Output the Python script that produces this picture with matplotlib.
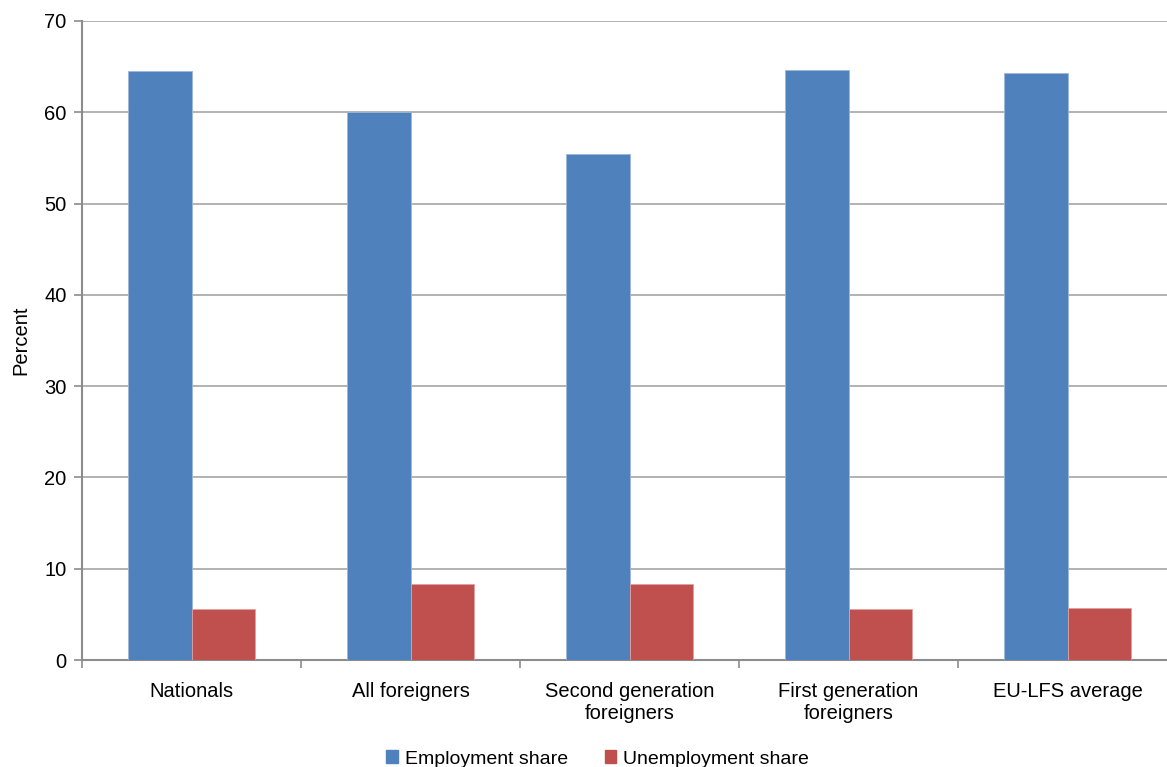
import matplotlib.pyplot as plt
from matplotlib.patches import Patch
import numpy as np

# Dados
CATEGORIES = ["Nationals", "All foreigners", "Second generation\nforeigners",
              "First generation\nforeigners", "EU-LFS average"]
EMPLOYMENT = [64.5, 60.0, 55.4, 64.6, 64.3]
UNEMPLOYMENT = [5.6, 8.3, 8.3, 5.6, 5.7]

BLUE = "#4F81BD"
RED = "#C0504D"
GRID = "#A6A6A6"
AXIS = "#8C8C8C"
FS = 14.5

plt.rcParams["font.family"] = ["Liberation Sans", "DejaVu Sans"]

fig = plt.figure(figsize=(11.67, 7.67), dpi=100)
ax = fig.add_axes([82 / 1167, 1 - 660 / 767, 1095 / 1167, 639 / 767])

x = np.arange(len(CATEGORIES))
w = 0.288
ax.bar(x - w / 2, EMPLOYMENT, width=w, color=BLUE, edgecolor="#9DB7DA", linewidth=0.6, zorder=3)
ax.bar(x + w / 2, UNEMPLOYMENT, width=w, color=RED, edgecolor="#E0A09E", linewidth=0.6, zorder=3)

ax.set_xlim(-0.5, len(CATEGORIES) - 0.5)
ax.set_ylim(0, 70)
ax.set_yticks(range(0, 71, 10))
ax.yaxis.grid(True, color=GRID, linewidth=1.2, zorder=0)
ax.set_axisbelow(True)

ax.set_xticks(x)
ax.set_xticklabels(CATEGORIES, fontsize=FS, linespacing=1.2)
ax.set_xticks(np.arange(-0.5, len(CATEGORIES), 1.0), minor=True)
ax.tick_params(axis="x", which="major", length=0, pad=16)
ax.tick_params(axis="x", which="minor", length=6, color=AXIS, width=1.2)
ax.tick_params(axis="y", length=6, color=AXIS, width=1.2, labelsize=FS, pad=5)

for side in ("top", "right"):
    ax.spines[side].set_visible(False)
for side in ("left", "bottom"):
    ax.spines[side].set_color(AXIS)
    ax.spines[side].set_linewidth(1.5)

ax.set_ylabel("Percent", fontsize=FS, labelpad=10)

handles = [Patch(color=BLUE, label="Employment share"),
           Patch(color=RED, label="Unemployment share")]
fig.legend(handles=handles, loc="center", bbox_to_anchor=(0.512, 1 - 759 / 767), ncol=2,
           frameon=False, fontsize=14, handlelength=0.6, handleheight=0.6,
           handletextpad=0.35, columnspacing=1.9)

fig.savefig("out.png", dpi=100)
